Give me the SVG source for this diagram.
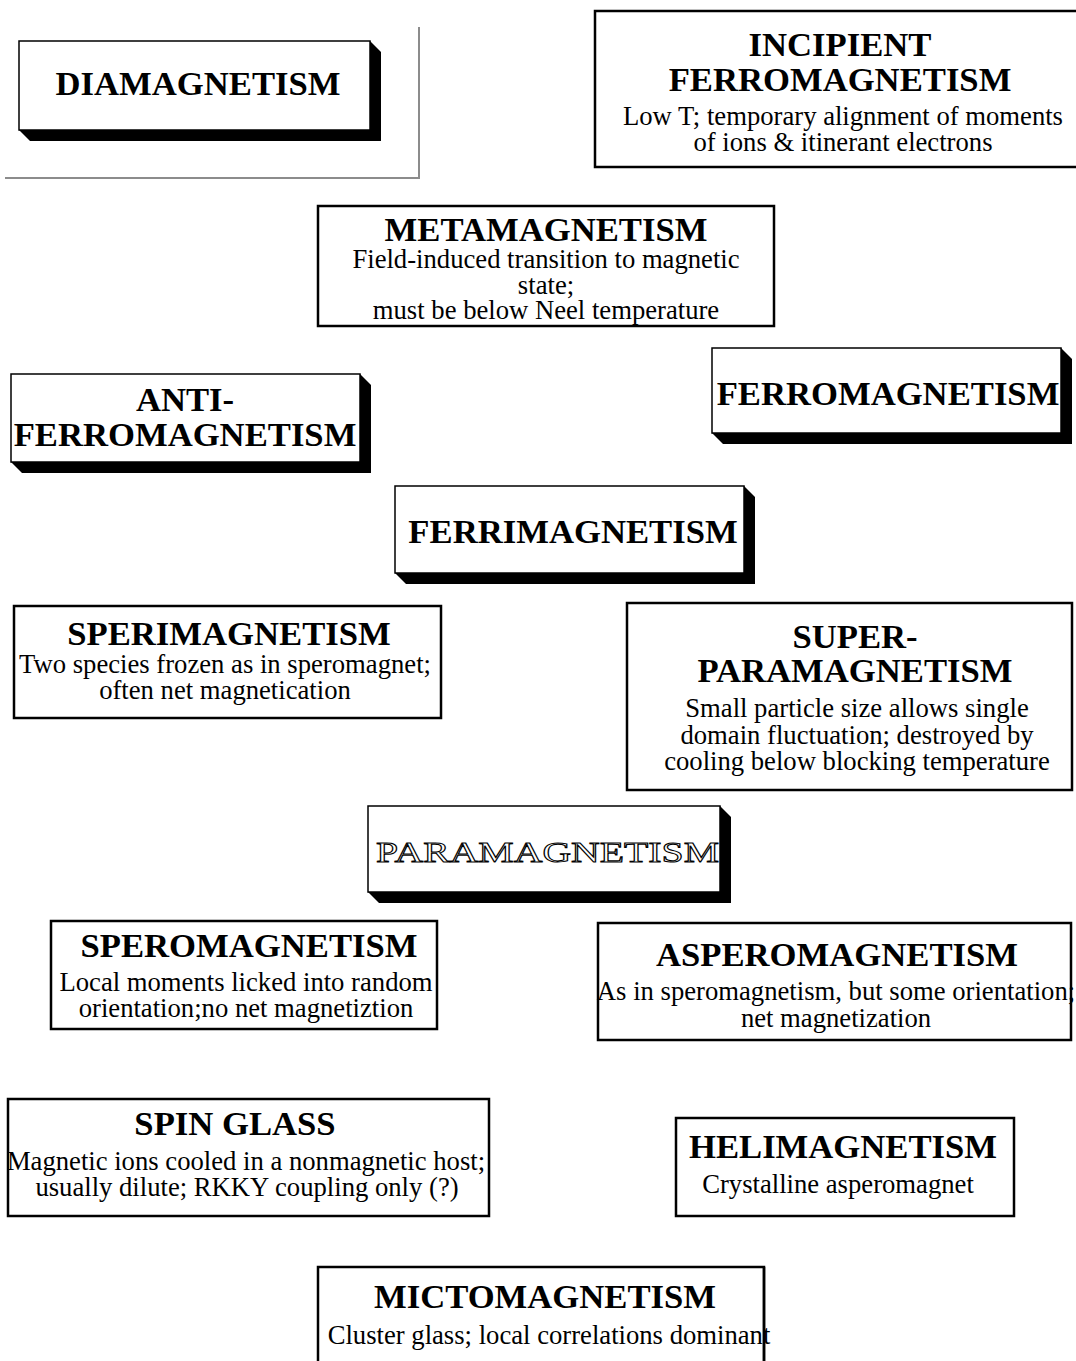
<svg xmlns="http://www.w3.org/2000/svg" width="1076" height="1361" viewBox="0 0 1076 1361">
<style>
.bg{fill:#fff}
.box{fill:#fff;stroke:#000;stroke-width:2.5}
.front{fill:#fff;stroke:#000;stroke-width:1.5}
.shadow{fill:#000}
.frame{fill:none;stroke:#8c8c8c;stroke-width:2}
.h{font-family:"Liberation Serif","Times New Roman",serif;font-weight:bold;font-size:34.67px;fill:#000;text-anchor:middle}
.b{font-family:"Liberation Serif","Times New Roman",serif;font-size:26.67px;fill:#000;text-anchor:middle}
.o{font-family:"Liberation Serif","Times New Roman",serif;font-size:30px;fill:#fff;stroke:#000;stroke-width:1}
</style>
<rect class="bg" x="0" y="0" width="1076" height="1361"/>
<g id="connectors"></g>
<g id="frame">
<polyline class="frame" points="419,27 419,178 5,178"/>
</g>
<g id="diamagnetism">
<polygon class="shadow" points="370,41 381,52 381,141 30,141 19,130"/>
<rect class="front" x="19" y="41" width="351" height="89"/>
<text class="h" x="198" y="95">DIAMAGNETISM</text>
</g>
<g id="incipient">
<rect class="box" x="595" y="11" width="490" height="156"/>
<text class="h" x="840" y="56">INCIPIENT</text>
<text class="h" x="840" y="91">FERROMAGNETISM</text>
<text class="b" x="843" y="125">Low T; temporary alignment of moments</text>
<text class="b" x="843" y="151">of ions &amp; itinerant electrons</text>
</g>
<g id="metamagnetism">
<rect class="box" x="318" y="206" width="456" height="120"/>
<text class="h" x="546" y="241">METAMAGNETISM</text>
<text class="b" x="546" y="268">Field-induced transition to magnetic</text>
<text class="b" x="546" y="294">state;</text>
<text class="b" x="546" y="319">must be below Neel temperature</text>
</g>
<g id="antiferromagnetism">
<polygon class="shadow" points="360,374 371,385 371,473 22,473 11,462"/>
<rect class="front" x="11" y="374" width="349" height="88"/>
<text class="h" x="185" y="411">ANTI-</text>
<text class="h" x="185" y="446">FERROMAGNETISM</text>
</g>
<g id="ferromagnetism">
<polygon class="shadow" points="1061,348 1072,359 1072,444 723,444 712,433"/>
<rect class="front" x="712" y="348" width="349" height="85"/>
<text class="h" x="888" y="405">FERROMAGNETISM</text>
</g>
<g id="ferrimagnetism">
<polygon class="shadow" points="744,486 755,497 755,584 406,584 395,573"/>
<rect class="front" x="395" y="486" width="349" height="87"/>
<text class="h" x="573" y="543">FERRIMAGNETISM</text>
</g>
<g id="sperimagnetism">
<rect class="box" x="14" y="606" width="427" height="112"/>
<text class="h" x="229" y="645">SPERIMAGNETISM</text>
<text class="b" x="225" y="673">Two species frozen as in speromagnet;</text>
<text class="b" x="225" y="699">often net magnetication</text>
</g>
<g id="superparamagnetism">
<rect class="box" x="627" y="603" width="445" height="187"/>
<text class="h" x="855" y="648">SUPER-</text>
<text class="h" x="855" y="682">PARAMAGNETISM</text>
<text class="b" x="857" y="717">Small particle size allows single</text>
<text class="b" x="857" y="744">domain fluctuation; destroyed by</text>
<text class="b" x="857" y="770">cooling below blocking temperature</text>
</g>
<g id="paramagnetism">
<polygon class="shadow" points="720,806 731,817 731,903 379,903 368,892"/>
<rect class="front" x="368" y="806" width="352" height="86"/>
<text class="o" x="376" y="862" textLength="343" lengthAdjust="spacingAndGlyphs">PARAMAGNETISM</text>
</g>
<g id="speromagnetism">
<rect class="box" x="51" y="921" width="386" height="108"/>
<text class="h" x="249" y="957">SPEROMAGNETISM</text>
<text class="b" x="246" y="991">Local moments licked into random</text>
<text class="b" x="246" y="1017">orientation;no net magnetiztion</text>
</g>
<g id="asperomagnetism">
<rect class="box" x="598" y="923" width="473" height="117"/>
<text class="h" x="837" y="966">ASPEROMAGNETISM</text>
<text class="b" x="836" y="1000">As in speromagnetism, but some orientation;</text>
<text class="b" x="836" y="1027">net magnetization</text>
</g>
<g id="spinglass">
<rect class="box" x="8" y="1099" width="481" height="117"/>
<text class="h" x="235" y="1135">SPIN GLASS</text>
<text class="b" x="246" y="1170">Magnetic ions cooled in a nonmagnetic host;</text>
<text class="b" x="247" y="1196">usually dilute; RKKY coupling only (?)</text>
</g>
<g id="helimagnetism">
<rect class="box" x="676" y="1118" width="338" height="98"/>
<text class="h" x="843" y="1158">HELIMAGNETISM</text>
<text class="b" x="838" y="1193">Crystalline asperomagnet</text>
</g>
<g id="mictomagnetism">
<rect class="box" x="318" y="1267" width="446" height="110"/>
<text class="h" x="545" y="1308">MICTOMAGNETISM</text>
<text class="b" x="549" y="1344">Cluster glass; local correlations dominant</text>
<line x1="764" y1="1267" x2="764" y2="1361" stroke="#000" stroke-width="2.5"/>
</g>
</svg>
